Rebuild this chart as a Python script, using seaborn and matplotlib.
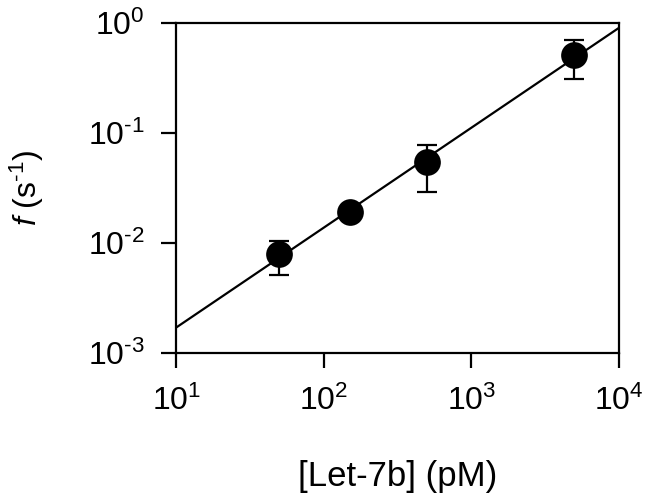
import numpy as np
import pandas as pd
import matplotlib
matplotlib.use('Agg')
import matplotlib.pyplot as plt
import seaborn as sns
from matplotlib.ticker import FuncFormatter, NullLocator

# Data
let7b_pm = [50, 150, 500, 5000]
freq = [0.0079, 0.0192, 0.054, 0.51]
err_low = [0.0051, 0.0172, 0.029, 0.31]
err_high = [0.0105, 0.0212, 0.078, 0.70]
x_ticks = [1e1, 1e2, 1e3, 1e4]
y_ticks = [1e-3, 1e-2, 1e-1, 1e0]

sns.set_theme(style='ticks')
plt.rcParams['font.family'] = ['Liberation Sans', 'DejaVu Sans']
plt.rcParams['mathtext.fontset'] = 'custom'
plt.rcParams['mathtext.rm'] = 'Liberation Sans'
plt.rcParams['mathtext.it'] = 'Liberation Sans:italic'
plt.rcParams['mathtext.default'] = 'regular'

df = pd.DataFrame({'x': let7b_pm, 'f': freq})

# power-law fit in log-log space
slope, intercept = np.polyfit(np.log10(df['x']), np.log10(df['f']), 1)
fit_x = np.logspace(1, 4, 50)
fit_df = pd.DataFrame({'x': fit_x, 'f': 10 ** (intercept + slope * np.log10(fit_x))})

fig, ax = plt.subplots(figsize=(6.5, 5.04), dpi=100)
fig.subplots_adjust(left=0.271, right=0.952, bottom=0.300, top=0.954)

sns.lineplot(data=fit_df, x='x', y='f', color='black', linewidth=1.6, ax=ax, zorder=2)

yerr = np.array([np.array(freq) - np.array(err_low), np.array(err_high) - np.array(freq)])
ax.errorbar(let7b_pm, freq, yerr=yerr, fmt='none', ecolor='black',
            elinewidth=1.6, capsize=7.5, capthick=1.6, zorder=3)
sns.scatterplot(data=df, x='x', y='f', color='black', s=370, edgecolor='black',
                linewidth=0, ax=ax, zorder=4)

ax.set_xscale('log')
ax.set_yscale('log')
ax.set_xlim(1e1, 1e4)
ax.set_ylim(1e-3, 1e0)
ax.set_xticks(x_ticks)
ax.set_yticks(y_ticks)
ax.xaxis.set_minor_locator(NullLocator())
ax.yaxis.set_minor_locator(NullLocator())


def pow10(v, pos):
    e = int(round(np.log10(v)))
    return r'10$^{\text{%d}}$' % e


ax.xaxis.set_major_formatter(FuncFormatter(pow10))
ax.yaxis.set_major_formatter(FuncFormatter(pow10))

for side in ['top', 'right', 'bottom', 'left']:
    ax.spines[side].set_visible(True)
    ax.spines[side].set_linewidth(1.6)
    ax.spines[side].set_color('black')

ax.tick_params(axis='both', which='major', direction='out', length=10.5, width=1.6,
               labelsize=23, color='black', labelcolor='black')
ax.tick_params(axis='x', pad=13)
ax.tick_params(axis='y', pad=12)

ax.set_xlabel('[Let-7b] (pM)', fontsize=25, color='black', labelpad=31)
ax.set_ylabel(r'$\mathit{f}$ (s$^{\text{-1}}$)', fontsize=23, color='black', labelpad=30)
ax.grid(False)

fig.savefig('out.png', dpi=100, facecolor='white')
